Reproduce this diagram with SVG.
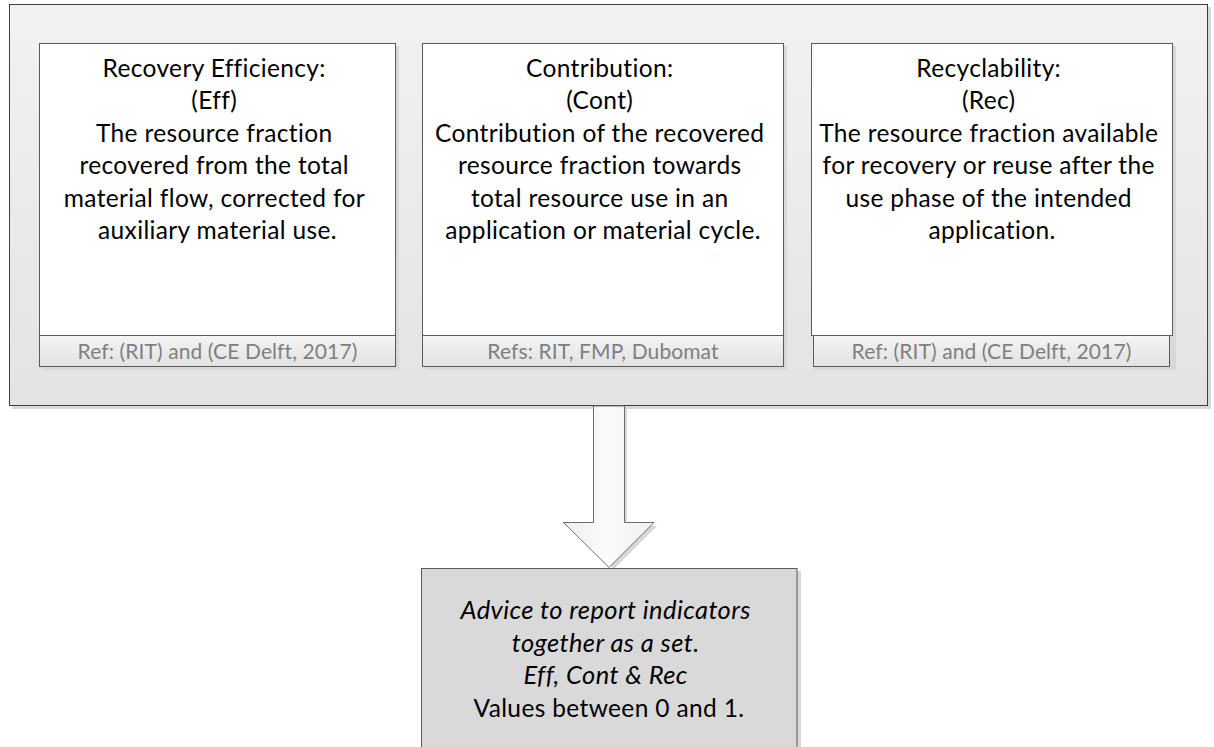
<svg xmlns="http://www.w3.org/2000/svg" width="1214" height="747" viewBox="0 0 1214 747">
  <defs>
    <linearGradient id="panelFill" x1="0" y1="0" x2="0" y2="1">
      <stop offset="0" stop-color="#f2f2f2"/>
      <stop offset="1" stop-color="#e3e3e3"/>
    </linearGradient>
    <linearGradient id="refFill" x1="0" y1="0" x2="0" y2="1">
      <stop offset="0" stop-color="#f4f4f4"/>
      <stop offset="1" stop-color="#e2e2e2"/>
    </linearGradient>
    <linearGradient id="arrowFill" x1="0" y1="0" x2="1" y2="0">
      <stop offset="0" stop-color="#eeeeee"/>
      <stop offset="0.5" stop-color="#fbfbfb"/>
      <stop offset="1" stop-color="#f0f0f0"/>
    </linearGradient>
  </defs>
  <style>
    .shadow { fill: #d8d8d8; }
    .panel { fill: url(#panelFill); stroke: #3f3f3f; stroke-width: 1; }
    .card { fill: #ffffff; stroke: #5a5a5a; stroke-width: 1; }
    .ref { fill: url(#refFill); stroke: #5a5a5a; stroke-width: 1; }
    .advice { fill: #d9d9d9; stroke: #5a5a5a; stroke-width: 1; }
    .arrow { fill: url(#arrowFill); stroke: #6e6e6e; stroke-width: 1; }
    text { font-family: Lato, "Liberation Sans", sans-serif; text-anchor: middle; }
    .body { font-size: 24.5px; letter-spacing: 0.35px; fill: #000000; }
    .reftxt { font-size: 21px; letter-spacing: 0.1px; fill: #808080; }
    .it { font-style: italic; font-size: 25.5px; letter-spacing: 0.4px; }
  </style>

  <!-- outer panel holding the three indicators -->
  <g id="panel">
    <rect class="shadow" x="12" y="7" width="1199" height="402"/>
    <rect class="panel" x="9.5" y="4.5" width="1198" height="401"/>
  </g>

  <!-- indicator: recovery efficiency -->
  <g id="eff">
    <rect class="shadow" x="42" y="46" width="357" height="324"/>
    <rect class="card" x="39.5" y="43.5" width="356" height="292"/>
    <rect class="ref" x="39.5" y="335.5" width="356" height="31"/>
    <text class="body" x="217.5">
      <tspan x="217.5" y="77">Recovery Efficiency:</tspan>
      <tspan x="217.5" y="109.4">(Eff)</tspan>
      <tspan x="217.5" y="141.8">The resource fraction</tspan>
      <tspan x="217.5" y="174.2">recovered from the total</tspan>
      <tspan x="217.5" y="206.6">material flow, corrected for</tspan>
      <tspan x="217.5" y="239">auxiliary material use.</tspan>
    </text>
    <text class="reftxt" x="217.5" y="359">Ref: (RIT) and (CE Delft, 2017)</text>
  </g>

  <!-- indicator: contribution -->
  <g id="cont">
    <rect class="shadow" x="425" y="46" width="362" height="324"/>
    <rect class="card" x="422.5" y="43.5" width="361" height="292"/>
    <rect class="ref" x="422.5" y="335.5" width="361" height="31"/>
    <text class="body" x="603">
      <tspan x="603" y="77">Contribution:</tspan>
      <tspan x="603" y="109.4">(Cont)</tspan>
      <tspan x="603" y="141.8">Contribution of the recovered</tspan>
      <tspan x="603" y="174.2">resource fraction towards</tspan>
      <tspan x="603" y="206.6">total resource use in an</tspan>
      <tspan x="603" y="239">application or material cycle.</tspan>
    </text>
    <text class="reftxt" x="603" y="359">Refs: RIT, FMP, Dubomat</text>
  </g>

  <!-- indicator: recyclability -->
  <g id="rec">
    <rect class="shadow" x="814" y="46" width="362" height="324"/>
    <rect class="card" x="811.5" y="43.5" width="361" height="292"/>
    <rect class="ref" x="813.5" y="335.5" width="356" height="31"/>
    <text class="body" x="992">
      <tspan x="992" y="77">Recyclability:</tspan>
      <tspan x="992" y="109.4">(Rec)</tspan>
      <tspan x="992" y="141.8">The resource fraction available</tspan>
      <tspan x="992" y="174.2">for recovery or reuse after the</tspan>
      <tspan x="992" y="206.6">use phase of the intended</tspan>
      <tspan x="992" y="239">application.</tspan>
    </text>
    <text class="reftxt" x="991.5" y="359">Ref: (RIT) and (CE Delft, 2017)</text>
  </g>

  <!-- block arrow from the panel to the advice -->
  <g id="connectors">
    <path class="shadow" d="M596,409 H627 V526 H657 L612,571 Z"/>
    <path class="arrow" d="M593.5,406 H624.5 V522.5 H654 L609,567.5 L563.5,522.5 H593.5 Z"/>
  </g>

  <!-- advice box -->
  <g id="advice">
    <rect class="shadow" x="424" y="571" width="377" height="180"/>
    <rect class="advice" x="421.5" y="568.5" width="375.5" height="185"/>
    <text class="body" x="609">
      <tspan class="it" x="609" y="619">Advice to report indicators</tspan>
      <tspan class="it" x="609" y="651.5">together as a set.</tspan>
      <tspan class="it" x="609" y="684">Eff, Cont &amp; Rec</tspan>
      <tspan x="609" y="716.5">Values between 0 and 1.</tspan>
    </text>
  </g>
</svg>
